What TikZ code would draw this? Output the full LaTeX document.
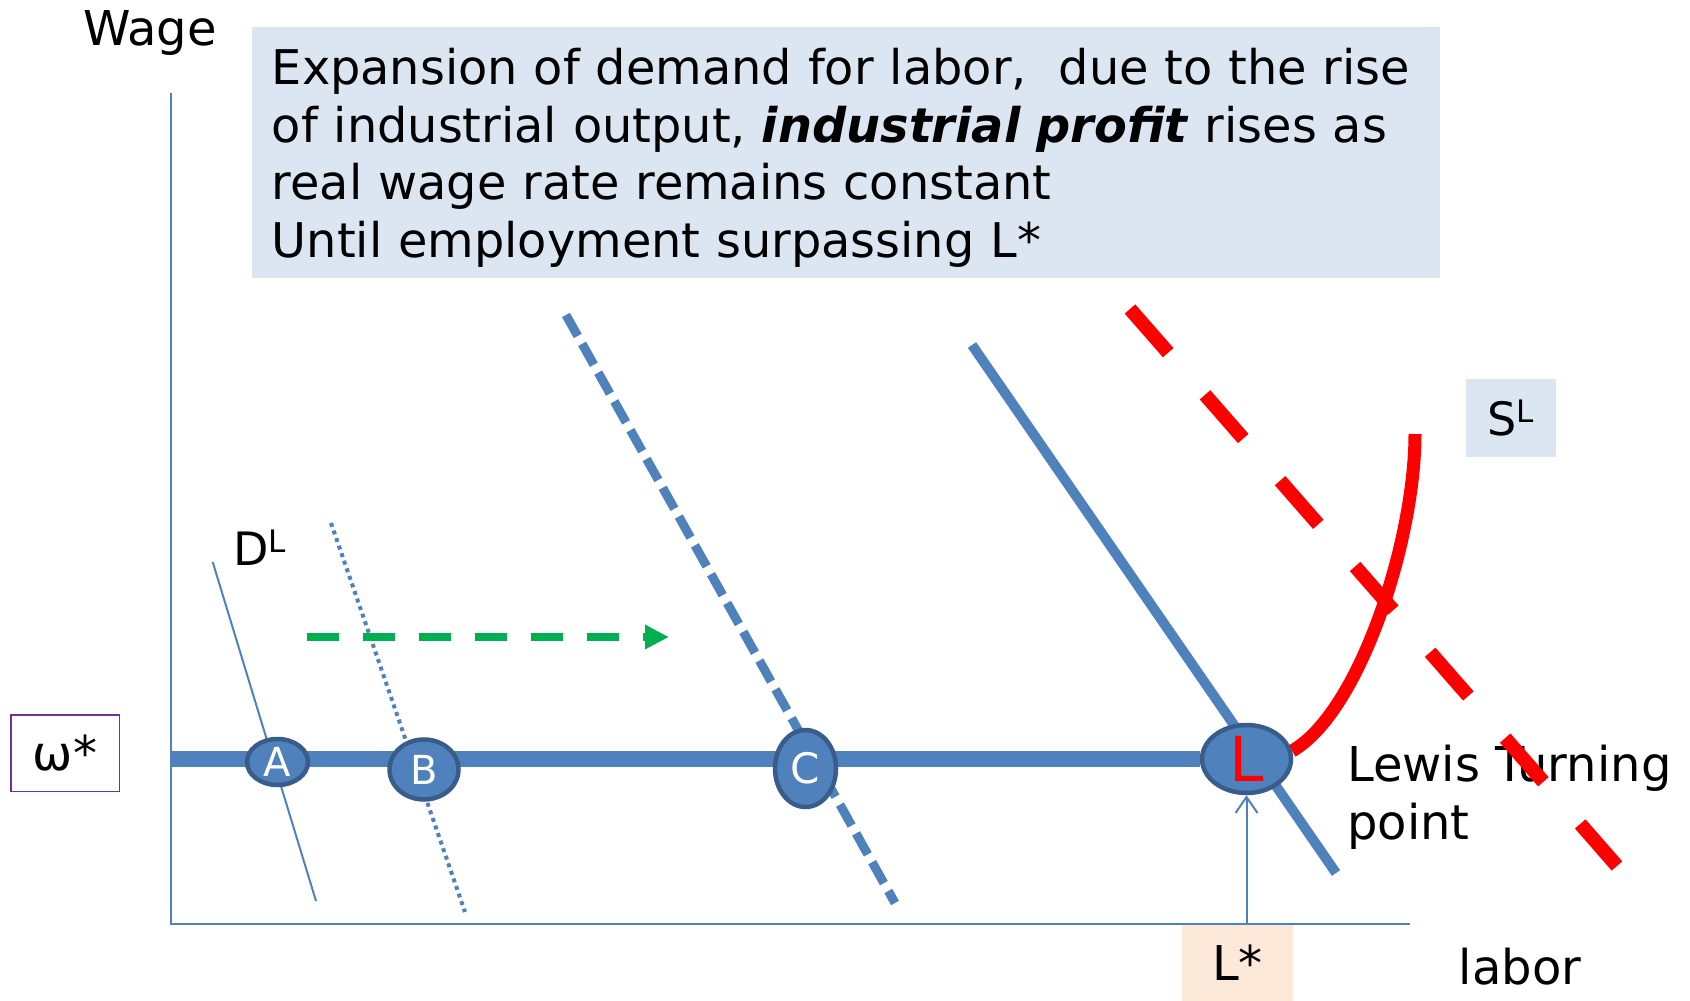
\documentclass[tikz,border=0pt]{standalone}
\usepackage{fontspec}
\setmainfont{DejaVu Sans}
\usepackage{tikz}
\usetikzlibrary{shapes.geometric,arrows.meta,backgrounds}
\definecolor{lineblue}{HTML}{4F81BD}
\definecolor{rimblue}{HTML}{385D8A}
\definecolor{paleblue}{HTML}{DCE6F2}
\definecolor{peach}{HTML}{FDE9D9}
\definecolor{shiftgreen}{HTML}{00B050}
\definecolor{boxpurple}{HTML}{7030A0}
\newcommand{\suptag}[1]{\raisebox{13pt}{\fontsize{31}{31}\selectfont #1}}

\begin{document}
\begin{tikzpicture}[x=1pt, y=-1pt,
  word/.style={inner sep=0pt, font=\fontsize{48}{57.8}\selectfont},
  meet/.style={ellipse, draw=rimblue, fill=lineblue, line width=4.5pt, inner sep=0pt, text=white, font=\fontsize{40}{40}\selectfont},
  axisline/.style={draw=lineblue, line width=2pt},
  wageline/.style={draw=lineblue, line width=16pt},
  pushright/.style={draw=shiftgreen, line width=8pt, dash pattern=on 32pt off 24pt, -{Triangle[length=24pt,width=23pt]}}
]
\useasboundingbox (0,0) rectangle (1690,1001);

\node[word, fill=paleblue, anchor=north west, text width=1148.8pt, inner xsep=19.6pt, inner ysep=10pt, minimum height=250pt, align=left, font=\fontsize{47.8}{57.8}\selectfont] (note) at (252,27) {\rule{0pt}{47pt}Expansion of demand for labor,\ \ due to the rise\\of industrial output, \textbf{\textit{industrial profit}} rises as\\real wage rate remains constant\\Until employment surpassing L*};
\node[word, anchor=base] (wage) at (150,45) {Wage};
\node[word, draw=boxpurple, line width=1.5pt, minimum width=108.5pt, minimum height=76.5pt] (omega) at (65,753) {ω*};
\node[word, anchor=base west, font=\fontsize{46}{46}\selectfont] (dl) at (233,565) {D\suptag{L}};
\node[word, fill=paleblue, minimum width=90pt, minimum height=78pt, font=\fontsize{46}{46}\selectfont] (sl) at (1511,418) {S\suptag{L}};
\node[word, fill=peach, minimum width=111pt, minimum height=76pt] (lstar) at (1237.5,963) {L*};
\node[word, anchor=base] (labor) at (1520,984) {labor};
\node[word, anchor=north west, align=left] (lewis) at (1347,745) {Lewis Turning\\point};

\node[meet, minimum width=61pt, minimum height=46pt] (A) at (277.5,762) {A};
\node[meet, minimum width=69pt, minimum height=60pt] (B) at (424,769.5) {B};
\node[meet, minimum width=61pt, minimum height=77pt, font=\fontsize{42}{42}\selectfont] (C) at (805.5,768.5) {C};
\node[meet, minimum width=89pt, minimum height=68pt, text=red, font=\fontsize{62}{62}\selectfont] (L) at (1246.5,759) {L};

\coordinate (origin) at (170.5,923.7);
\coordinate (ytop) at (170.5,93);
\coordinate (xend) at (1410,923.7);
\coordinate (wstart) at (170.5,759);
\coordinate (gstart) at (307,637);
\coordinate (gend) at (669,637);
\coordinate (sltop) at (1415,434);

\begin{pgfonlayer}{background}
\draw[axisline] (ytop) -- (origin) -- (xend);
\draw[wageline] (wstart) -- (L);
\draw[lineblue, line width=2pt] (212.7,562) -- (316,901);
\draw[lineblue, line width=4pt, dash pattern=on 4pt off 4pt] (331,523) -- (465,912);
\draw[lineblue, line width=9pt, dash pattern=on 24pt off 9pt] (566,315) -- (895,903);
\draw[lineblue, line width=10pt] (972,345) -- (1336,873);
\draw[red, line width=13pt] (L.10) .. controls (1360,712) and (1415,540) .. (sltop);
\end{pgfonlayer}

\draw[pushright] (gstart) -- (gend);
\draw[lineblue, line width=2pt, -{Straight Barb[length=16pt,width=22pt]}] (lstar.north -| L.south) -- (L.south);
\draw[red, line width=14pt, dash pattern=on 58pt off 56pt] (1130,309) -- (1617,866);

\end{tikzpicture}
\end{document}
